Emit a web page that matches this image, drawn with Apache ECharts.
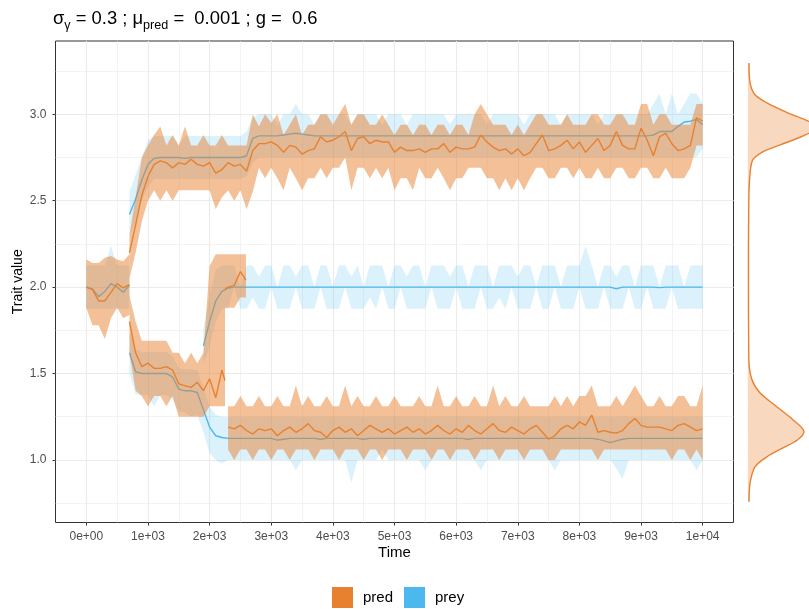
<!DOCTYPE html>
<html><head><meta charset="utf-8">
<script src="https://cdn.jsdelivr.net/npm/echarts@6/dist/echarts.min.js"></script>
<style>html,body{margin:0;padding:0;background:#fff}#c{width:809px;height:609px}</style>
</head><body><div id="c"></div>
<script>
// ---------- tick labels ----------
const xTicks = [0,1000,2000,3000,4000,5000,6000,7000,8000,9000,10000];
const xTickLabels = ['0e+00','1e+03','2e+03','3e+03','4e+03','5e+03','6e+03','7e+03','8e+03','9e+03','1e+04'];
const xMinorTicks = [500,1500,2500,3500,4500,5500,6500,7500,8500,9500];
const yTicks = [1.0,1.5,2.0,2.5,3.0];
const yTickLabels = ['1.0','1.5','2.0','2.5','3.0'];
const yMinorTicks = [0.75,1.25,1.75,2.25,2.75,3.25];

// ---------- time grids ----------
const timeStart = [0,100,200,300,400,500,600,700];
const timeMain = [700,800,900,
 1000,1100,1200,1300,1400,1500,1600,1700,1800,1900,
 2000,2100,2200,2300,2400,2500,2600,2700,2800,2900,
 3000,3100,3200,3300,3400,3500,3600,3700,3800,3900,
 4000,4100,4200,4300,4400,4500,4600,4700,4800,4900,
 5000,5100,5200,5300,5400,5500,5600,5700,5800,5900,
 6000,6100,6200,6300,6400,6500,6600,6700,6800,6900,
 7000,7100,7200,7300,7400,7500,7600,7700,7800,7900,
 8000,8100,8200,8300,8400,8500,8600,8700,8800,8900,
 9000,9100,9200,9300,9400,9500,9600,9700,9800,9900,
 10000];
const timePredLow1 = [700,800,900,1000,1100,1200,1300,1400,1500,1600,1700,1800,1900,2000,2100,2200,2250];
const timePredMid = [2250,2300,2400,2500,2590];
const timePredLow2 = timeMain.filter(t => t >= 2300);
const timePreyMid = timeMain.filter(t => t >= 1900);

// ---------- pred ----------
const predStartMean = [2.00,1.985,1.92,1.92,1.97,2.02,1.995,2.015];
const predStartLo   = [1.88,1.78,1.78,1.70,1.82,1.88,1.82,1.84];
const predStartHi   = [2.16,2.14,2.14,2.17,2.18,2.16,2.15,2.19];

const predUpMean = [2.20,2.36,2.53,
 2.64,2.71,2.73,2.72,2.69,2.72,2.71,2.74,2.71,2.70,
 2.72,2.66,2.68,2.72,2.70,2.71,2.67,2.79,2.83,2.83,
 2.84,2.82,2.78,2.82,2.81,2.77,2.79,2.80,2.87,2.84,
 2.85,2.87,2.90,2.79,2.86,2.87,2.83,2.85,2.84,2.84,
 2.78,2.81,2.79,2.79,2.80,2.78,2.80,2.80,2.83,2.78,
 2.81,2.80,2.80,2.81,2.88,2.84,2.81,2.79,2.80,2.77,
 2.80,2.76,2.78,2.83,2.88,2.79,2.80,2.82,2.85,2.80,
 2.84,2.78,2.82,2.86,2.79,2.82,2.90,2.82,2.80,2.80,
 2.92,2.85,2.76,2.87,2.89,2.83,2.79,2.80,2.82,2.98,
 2.96];
const predUpHi = [2.30,2.52,2.75,
 2.82,2.88,2.93,2.82,2.88,2.82,2.93,2.82,2.82,2.88,
 2.82,2.82,2.88,2.82,2.82,2.82,2.82,3.00,2.93,3.00,
 2.95,3.00,2.88,2.94,3.00,2.88,2.94,2.94,3.00,3.00,
 2.94,3.00,3.06,2.94,3.00,3.00,2.94,2.94,3.00,2.94,
 2.88,2.94,2.94,2.88,2.94,2.94,2.88,2.94,2.94,2.88,
 2.94,2.94,2.88,3.00,3.06,3.00,2.94,2.94,2.94,2.88,
 2.94,2.88,2.94,3.00,3.00,2.94,2.94,2.94,3.00,2.94,
 2.94,2.94,3.00,3.00,2.94,2.94,3.00,3.00,2.94,2.94,
 3.06,3.06,2.94,3.00,3.00,2.94,2.94,2.94,2.94,3.06,
 3.06];
const predUpLo = [2.05,2.20,2.38,
 2.50,2.56,2.50,2.56,2.50,2.56,2.56,2.56,2.56,2.56,
 2.56,2.45,2.52,2.56,2.50,2.56,2.45,2.55,2.69,2.63,
 2.69,2.63,2.56,2.69,2.63,2.56,2.63,2.63,2.69,2.63,
 2.69,2.69,2.75,2.56,2.69,2.69,2.63,2.69,2.63,2.69,
 2.56,2.63,2.63,2.56,2.69,2.63,2.63,2.69,2.63,2.56,
 2.63,2.63,2.69,2.69,2.69,2.63,2.63,2.56,2.63,2.56,
 2.63,2.56,2.63,2.69,2.69,2.63,2.63,2.69,2.69,2.63,
 2.69,2.63,2.63,2.69,2.63,2.63,2.69,2.69,2.63,2.63,
 2.69,2.69,2.63,2.63,2.69,2.63,2.63,2.63,2.69,2.82,
 2.82];

const predLow1Mean = [1.80,1.62,1.54,1.56,1.53,1.53,1.54,1.52,1.44,1.43,1.42,1.45,1.40,1.47,1.36,1.52,1.46];
const predLow1Hi   = [1.95,1.80,1.69,1.69,1.69,1.69,1.69,1.62,1.62,1.56,1.62,1.56,1.62,2.12,2.19,2.19,2.19];
const predLow1Lo   = [1.62,1.40,1.37,1.31,1.37,1.37,1.31,1.37,1.25,1.25,1.25,1.25,1.25,1.31,1.31,1.31,1.31];

const predMidMean = [1.99,2.00,2.01,2.09,2.04];
const predMidHi   = [2.19,2.19,2.19,2.19,2.19];
const predMidLo   = [1.88,1.88,1.88,1.94,1.94];

const predLow2Mean = [1.19,1.18,1.20,1.17,1.15,1.18,1.17,
 1.18,1.14,1.17,1.19,1.16,1.18,1.21,1.17,1.16,1.13,
 1.17,1.19,1.16,1.18,1.14,1.17,1.20,1.18,1.16,1.18,
 1.15,1.17,1.19,1.16,1.18,1.15,1.17,1.20,1.17,1.15,
 1.18,1.16,1.20,1.17,1.15,1.18,1.21,1.17,1.16,1.19,
 1.17,1.15,1.18,1.20,1.16,1.12,1.14,1.18,1.20,1.18,
 1.22,1.20,1.26,1.16,1.17,1.16,1.155,1.17,1.21,1.24,
 1.20,1.19,1.19,1.19,1.18,1.17,1.20,1.21,1.19,1.17,
 1.18];
const predLow2Hi = [1.31,1.31,1.37,1.31,1.31,1.37,1.31,
 1.31,1.37,1.31,1.31,1.43,1.31,1.37,1.31,1.31,1.37,
 1.31,1.31,1.43,1.31,1.37,1.31,1.31,1.37,1.31,1.31,
 1.37,1.31,1.31,1.31,1.37,1.31,1.31,1.43,1.31,1.31,
 1.37,1.31,1.31,1.37,1.31,1.31,1.43,1.31,1.37,1.31,
 1.31,1.37,1.31,1.31,1.31,1.31,1.37,1.31,1.37,1.31,
 1.37,1.37,1.43,1.31,1.31,1.31,1.37,1.31,1.37,1.43,
 1.37,1.31,1.31,1.37,1.31,1.31,1.37,1.37,1.31,1.31,
 1.43];
const predLow2Lo = [1.06,1.00,1.06,1.06,1.00,1.06,1.06,
 1.00,1.06,1.06,1.00,1.06,1.06,1.06,1.00,1.06,1.06,
 1.06,1.00,1.06,1.06,1.06,1.00,1.06,1.06,1.00,1.06,
 1.06,1.06,1.00,1.06,1.06,1.06,1.00,1.06,1.06,1.00,
 1.06,1.06,1.06,1.00,1.06,1.06,1.06,1.00,1.06,1.06,
 1.06,1.00,1.06,1.06,1.06,1.00,1.00,1.06,1.06,1.06,
 1.06,1.06,1.06,1.00,1.06,1.06,1.06,1.06,1.06,1.06,
 1.06,1.06,1.06,1.06,1.06,1.00,1.06,1.06,1.00,1.06,
 1.00];

// ---------- prey ----------
const preyStartMean = [2.00,1.99,1.945,1.975,2.02,2.00,1.97,2.01];
const preyStartHi   = [2.125,2.125,2.125,2.125,2.24,2.125,2.125,2.125];
const preyStartLo   = [1.875,1.875,1.875,1.875,1.875,1.875,1.875,1.875];

const preyUpMean = [2.42,2.51,2.62,
 2.71,2.745,2.75,2.75,2.75,2.75,2.745,2.75,2.75,2.75,
 2.75,2.75,2.75,2.75,2.75,2.75,2.76,2.86,2.875,2.875,
 2.875,2.875,2.88,2.885,2.89,2.885,2.88,2.875,2.875,2.875,
 2.875,2.875,2.875,2.875,2.875,2.875,2.875,2.875,2.875,2.875,
 2.875,2.875,2.875,2.875,2.875,2.875,2.875,2.875,2.875,2.875,
 2.875,2.875,2.875,2.875,2.875,2.875,2.875,2.875,2.875,2.875,
 2.875,2.875,2.875,2.875,2.875,2.875,2.875,2.875,2.875,2.875,
 2.875,2.875,2.875,2.875,2.875,2.875,2.875,2.875,2.875,2.875,
 2.875,2.875,2.88,2.90,2.90,2.90,2.93,2.955,2.96,2.97,
 2.94];
const preyUpHi = [2.55,2.65,2.75,
 2.85,2.875,2.875,2.875,2.875,2.82,2.875,2.875,2.875,2.875,
 2.875,2.875,2.875,2.875,2.875,2.875,2.90,2.98,3.00,3.00,
 3.00,2.94,3.00,3.00,3.06,3.00,3.00,2.94,3.00,3.00,
 3.00,3.00,3.00,2.94,3.00,3.00,3.00,3.00,2.94,3.00,
 3.00,3.00,2.94,3.00,3.00,3.00,3.00,3.00,3.00,2.94,
 3.00,3.00,3.00,3.00,3.00,2.94,3.00,3.00,3.00,3.00,
 3.00,2.94,3.00,3.00,3.00,3.00,3.00,2.94,3.00,3.00,
 3.00,3.00,3.00,2.94,3.00,3.00,3.00,3.00,3.00,3.00,
 3.00,3.00,3.06,3.12,3.00,3.12,3.00,3.06,3.12,3.12,
 3.06];
const preyUpLo = [2.30,2.38,2.50,
 2.58,2.625,2.625,2.625,2.625,2.625,2.625,2.625,2.625,2.625,
 2.625,2.625,2.625,2.625,2.625,2.625,2.64,2.72,2.75,2.75,
 2.75,2.75,2.75,2.75,2.75,2.75,2.75,2.75,2.75,2.75,
 2.75,2.75,2.75,2.75,2.75,2.75,2.75,2.75,2.75,2.75,
 2.75,2.75,2.75,2.75,2.75,2.75,2.75,2.75,2.75,2.75,
 2.75,2.75,2.75,2.75,2.75,2.75,2.75,2.75,2.75,2.75,
 2.75,2.75,2.75,2.75,2.75,2.75,2.75,2.75,2.75,2.75,
 2.75,2.75,2.75,2.75,2.75,2.75,2.75,2.75,2.75,2.75,
 2.75,2.75,2.75,2.75,2.75,2.75,2.75,2.75,2.75,2.75,
 2.80];

const preyLowMean = [1.62,1.51,1.50,
 1.50,1.50,1.50,1.50,1.48,1.41,1.40,1.40,1.39,1.29,
 1.19,1.14,1.13,1.125,1.125,1.125,1.125,1.125,1.125,1.125,
 1.125,1.115,1.12,1.125,1.125,1.125,1.125,1.125,1.12,1.125,
 1.125,1.125,1.125,1.125,1.125,1.12,1.125,1.125,1.125,1.125,
 1.125,1.125,1.125,1.125,1.125,1.125,1.125,1.125,1.125,1.125,
 1.125,1.125,1.12,1.125,1.125,1.125,1.125,1.125,1.125,1.125,
 1.125,1.125,1.125,1.125,1.125,1.125,1.125,1.125,1.125,1.125,
 1.125,1.125,1.125,1.12,1.11,1.10,1.11,1.12,1.125,1.125,
 1.125,1.125,1.125,1.125,1.125,1.125,1.125,1.125,1.125,1.125,
 1.125];
const preyLowHi = [1.75,1.64,1.625,
 1.625,1.625,1.625,1.625,1.60,1.53,1.525,1.525,1.52,1.42,
 1.31,1.26,1.25,1.25,1.25,1.25,1.25,1.25,1.25,1.25,
 1.25,1.25,1.25,1.25,1.25,1.25,1.25,1.25,1.25,1.25,
 1.25,1.25,1.25,1.25,1.25,1.25,1.25,1.25,1.25,1.25,
 1.25,1.25,1.25,1.25,1.25,1.25,1.25,1.25,1.25,1.25,
 1.25,1.25,1.25,1.25,1.25,1.25,1.25,1.25,1.25,1.25,
 1.25,1.25,1.25,1.25,1.25,1.25,1.25,1.25,1.25,1.25,
 1.25,1.25,1.25,1.25,1.25,1.25,1.25,1.25,1.25,1.25,
 1.25,1.25,1.25,1.25,1.25,1.25,1.25,1.25,1.25,1.25,
 1.25];
const preyLowLo = [1.50,1.38,1.375,
 1.375,1.31,1.375,1.375,1.35,1.28,1.275,1.25,1.26,1.16,
 1.04,1.00,0.98,1.00,1.00,1.00,1.00,1.00,1.00,1.00,
 1.00,1.00,1.00,1.00,0.94,1.00,1.00,1.00,1.00,1.00,
 1.00,1.00,1.00,0.87,1.00,1.00,1.00,1.00,1.06,1.00,
 1.00,1.00,1.00,1.00,1.00,0.94,1.00,1.00,1.00,1.00,
 1.00,1.00,1.00,1.00,0.94,1.00,1.00,1.00,1.00,1.00,
 1.00,1.00,1.00,1.00,1.00,1.00,0.94,1.00,1.00,1.00,
 1.00,1.00,1.00,1.00,1.00,1.00,0.95,0.89,1.00,1.00,
 1.00,1.00,1.00,1.00,1.00,1.00,1.00,1.00,1.00,0.94,
 1.00];

const preyMidMean = [1.66,
 1.80,1.92,1.975,1.995,2.00,2.00,2.00,2.00,2.00,2.00,
 2.00,2.00,2.00,2.00,2.00,2.00,2.00,2.00,2.00,2.00,
 2.00,2.00,2.00,2.00,2.00,2.00,2.00,2.00,2.00,2.00,
 2.00,2.00,2.00,2.00,2.00,2.00,2.00,2.00,2.00,2.00,
 2.00,2.00,2.00,2.00,2.00,2.00,2.00,2.00,2.00,2.00,
 2.00,2.00,2.00,2.00,2.00,2.00,2.00,2.00,2.00,2.00,
 2.00,2.00,2.00,2.00,2.00,2.00,1.99,2.00,2.00,2.00,
 2.00,2.00,2.00,1.997,2.00,2.00,2.00,2.00,2.00,2.00,
 2.00];
const preyMidHi = [1.76,
 1.95,2.10,2.125,2.125,2.125,2.0,2.125,2.125,2.06,2.125,
 2.125,2.0,2.125,2.125,2.06,2.125,2.125,2.0,2.125,2.125,
 2.0,2.125,2.125,2.06,2.125,2.0,2.125,2.125,2.125,2.0,
 2.125,2.125,2.06,2.125,2.125,2.0,2.125,2.125,2.125,2.06,
 2.125,2.125,2.0,2.125,2.125,2.125,2.0,2.125,2.125,2.125,
 2.06,2.125,2.125,2.0,2.125,2.125,2.125,2.0,2.125,2.125,
 2.125,2.24,2.125,2.0,2.125,2.125,2.06,2.125,2.125,2.0,
 2.125,2.125,2.125,2.0,2.125,2.125,2.125,2.0,2.125,2.125,
 2.125];
const preyMidLo = [1.55,
 1.66,1.80,1.875,1.875,2.0,1.875,1.875,1.94,1.875,1.875,
 2.0,1.875,1.875,1.875,2.0,1.875,1.875,1.875,2.0,1.875,
 1.875,1.875,2.0,1.875,1.875,1.875,1.94,1.875,2.0,1.875,
 1.875,2.0,1.875,1.875,1.875,1.875,2.0,1.875,1.875,1.875,
 2.0,1.875,1.875,1.875,2.0,1.875,1.875,1.94,1.875,2.0,
 1.875,1.875,1.875,2.0,1.875,1.875,2.0,1.875,1.875,1.875,
 2.0,1.875,1.875,1.875,2.0,1.875,1.875,1.875,2.0,1.875,
 1.875,2.0,1.875,1.875,1.875,2.0,1.875,1.875,1.875,1.875,
 1.875];

// ---------- marginal density of pred trait ----------
const densTrait = [3.296,3.18,3.113,3.066,3.008,2.956,2.922,2.870,2.823,2.783,2.737,2.661,2.505,2.04,1.58,1.464,1.389,1.308,1.233,1.163,1.117,1.070,1.018,0.960,0.868,0.758];
const densValue = [0.014,0.03,0.10,0.27,0.57,0.88,0.98,0.76,0.46,0.21,0.07,0.03,0.012,0.007,0.012,0.057,0.17,0.41,0.64,0.80,0.71,0.50,0.27,0.10,0.03,0.014];

// ---------- styling ----------
const PRED = '#E8812F';
const PREY = '#4DB8EE';
const FONT = '"Liberation Sans", Arial, Helvetica, sans-serif';
const Y_MIN = 0.638, Y_MAX = 3.424;

function ribbon(name, times, lo, hi, color, opacity, z) {
  const data = times.map((t, i) => [t, lo[i], hi[i]]);
  return {
    type: 'custom', name: name, xAxisIndex: 0, yAxisIndex: 0, silent: true, z: z,
    data: data, encode: {x: 0, y: [1, 2]},
    renderItem: function (params, api) {
      if (params.dataIndex !== 0) return null;
      const top = data.map(d => api.coord([d[0], d[2]]));
      const bot = data.map(d => api.coord([d[0], d[1]])).reverse();
      return {type: 'polygon', shape: {points: top.concat(bot)}, style: {fill: color, opacity: opacity}};
    }
  };
}
function line(name, times, vals, color, z) {
  return {
    type: 'line', name: name, xAxisIndex: 0, yAxisIndex: 0, silent: true, z: z,
    data: times.map((t, i) => [t, vals[i]]), showSymbol: false, symbol: 'none',
    lineStyle: {color: color, width: 1.4}, itemStyle: {color: color}
  };
}

const series = [
  ribbon('prey', timeStart, preyStartLo, preyStartHi, PREY, 0.2, 1),
  ribbon('prey', timeMain, preyUpLo, preyUpHi, PREY, 0.2, 1),
  ribbon('prey', timeMain, preyLowLo, preyLowHi, PREY, 0.2, 1),
  ribbon('prey', timePreyMid, preyMidLo, preyMidHi, PREY, 0.2, 1),
  line('prey', timeStart, preyStartMean, PREY, 2),
  line('prey', timeMain, preyUpMean, PREY, 2),
  line('prey', timeMain, preyLowMean, PREY, 2),
  line('prey', timePreyMid, preyMidMean, PREY, 2),
  ribbon('pred', timeStart, predStartLo, predStartHi, PRED, 0.5, 3),
  ribbon('pred', timeMain, predUpLo, predUpHi, PRED, 0.5, 3),
  ribbon('pred', timePredLow1, predLow1Lo, predLow1Hi, PRED, 0.5, 3),
  ribbon('pred', timePredMid, predMidLo, predMidHi, PRED, 0.5, 3),
  ribbon('pred', timePredLow2, predLow2Lo, predLow2Hi, PRED, 0.5, 3),
  line('pred', timeStart, predStartMean, PRED, 4),
  line('pred', timeMain, predUpMean, PRED, 4),
  line('pred', timePredLow1, predLow1Mean, PRED, 4),
  line('pred', timePredMid, predMidMean, PRED, 4),
  line('pred', timePredLow2, predLow2Mean, PRED, 4),
  {
    type: 'custom', xAxisIndex: 2, yAxisIndex: 2, silent: true, z: 3,
    data: densTrait.map((v, i) => [densValue[i], v]),
    renderItem: function (params, api) {
      if (params.dataIndex !== 0) return null;
      const pts = densTrait.map((v, i) => api.coord([densValue[i], v]));
      pts.push(api.coord([0, densTrait[densTrait.length - 1]]));
      pts.unshift(api.coord([0, densTrait[0]]));
      return {type: 'polygon', shape: {points: pts, smooth: 0.25}, style: {fill: PRED, opacity: 0.3}};
    }
  },
  {
    type: 'line', xAxisIndex: 2, yAxisIndex: 2, silent: true, smooth: 0.3, z: 4,
    data: densTrait.map((v, i) => [densValue[i], v]), showSymbol: false, symbol: 'none',
    lineStyle: {color: PRED, width: 1.4}
  }
];

const chart = echarts.init(document.getElementById('c'), null, {renderer: 'canvas'});
chart.setOption({
  animation: false,
  backgroundColor: '#ffffff',
  textStyle: {fontFamily: FONT},
  title: {
    left: 53, top: 6, padding: 0,
    text: '{n|σ}{s|γ}{n| = 0.3 ; μ}{s|pred}{n| =  0.001 ; g =  0.6}',
    textStyle: {
      fontWeight: 'normal',
      rich: {
        n: {fontSize: 18.4, color: '#000', fontWeight: 'normal', fontFamily: FONT, lineHeight: 26, verticalAlign: 'middle'},
        s: {fontSize: 12.6, color: '#000', fontWeight: 'normal', fontFamily: FONT, lineHeight: 26, verticalAlign: 'bottom', padding: [6, 0, 0, 0]}
      }
    }
  },
  legend: {
    top: 587, left: 332, padding: 0, itemWidth: 21, itemHeight: 21, itemGap: 11, icon: 'rect',
    selectedMode: false,
    textStyle: {fontSize: 15, color: '#000', fontFamily: FONT, padding: [0, 0, 0, 5]},
    data: [{name: 'pred', itemStyle: {color: PRED}}, {name: 'prey', itemStyle: {color: PREY}}]
  },
  grid: [
    {left: 55.5, top: 41, width: 678, height: 481.5, show: true, borderColor: '#333333', borderWidth: 1,
     backgroundColor: 'transparent', containLabel: false, outerBoundsMode: 'none'},
    {left: 748, top: 41, width: 70, height: 481.5, show: false, containLabel: false, outerBoundsMode: 'none'}
  ],
  xAxis: [
    {type: 'value', gridIndex: 0, min: -500, max: 10500,
     name: 'Time', nameLocation: 'middle', nameGap: 23, nameMoveOverlap: false,
     nameTextStyle: {fontSize: 15, color: '#000', fontFamily: FONT},
     axisLine: {show: false, onZero: false},
     axisTick: {show: true, length: 3, customValues: xTicks, lineStyle: {color: '#333333'}},
     axisLabel: {customValues: xTicks, color: '#4D4D4D', fontSize: 12, margin: 8, fontFamily: FONT,
       formatter: v => { const k = xTicks.indexOf(v); return k >= 0 ? xTickLabels[k] : ''; }},
     splitLine: {show: true, lineStyle: {color: '#EBEBEB', width: 1.1}}},
    {type: 'value', gridIndex: 0, min: -500, max: 10500, position: 'bottom',
     axisLine: {show: false, onZero: false}, axisTick: {show: false, customValues: xMinorTicks},
     axisLabel: {show: false, customValues: xMinorTicks},
     splitLine: {show: true, lineStyle: {color: '#EBEBEB', width: 0.6}}},
    {type: 'value', gridIndex: 1, min: 0, max: 1, show: false}
  ],
  yAxis: [
    {type: 'value', gridIndex: 0, min: Y_MIN, max: Y_MAX,
     name: 'Trait value', nameLocation: 'middle', nameGap: 30, nameRotate: 90, nameMoveOverlap: false,
     nameTextStyle: {fontSize: 14, color: '#000', fontFamily: FONT},
     axisLine: {show: false, onZero: false},
     axisTick: {show: true, length: 3, customValues: yTicks, lineStyle: {color: '#333333'}},
     axisLabel: {customValues: yTicks, color: '#4D4D4D', fontSize: 12, margin: 9, fontFamily: FONT,
       formatter: v => { const k = yTicks.indexOf(v); return k >= 0 ? yTickLabels[k] : ''; }},
     splitLine: {show: true, lineStyle: {color: '#EBEBEB', width: 1.1}}},
    {type: 'value', gridIndex: 0, min: Y_MIN, max: Y_MAX, position: 'left',
     axisLine: {show: false, onZero: false}, axisTick: {show: false, customValues: yMinorTicks},
     axisLabel: {show: false, customValues: yMinorTicks},
     splitLine: {show: true, lineStyle: {color: '#EBEBEB', width: 0.6}}},
    {type: 'value', gridIndex: 1, min: Y_MIN, max: Y_MAX, show: false}
  ],
  series: series
});
</script></body></html>
